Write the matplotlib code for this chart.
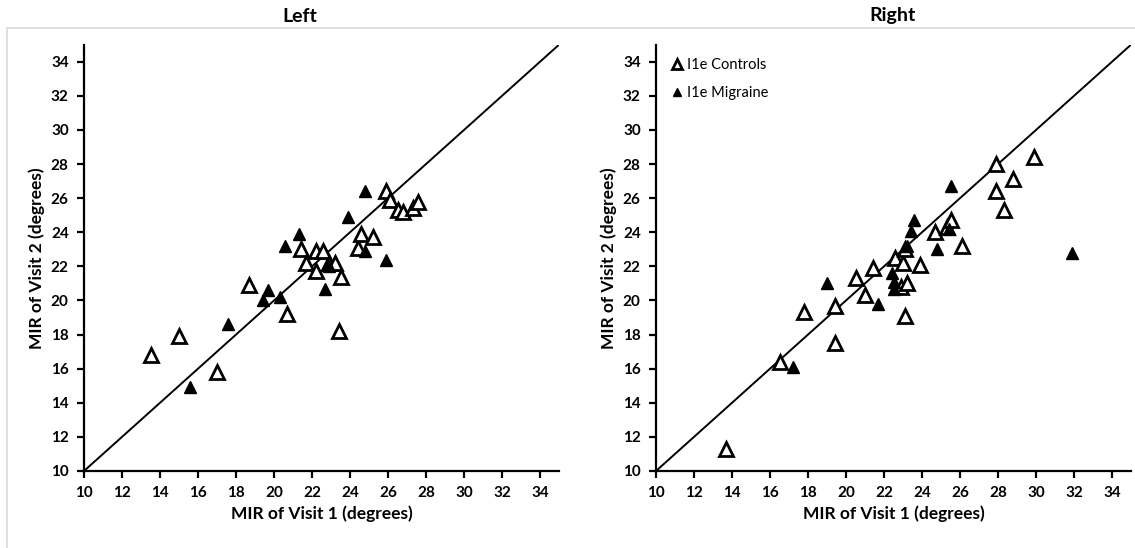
import matplotlib.pyplot as plt
from matplotlib.patches import Rectangle

plt.rcParams['font.family'] = ['Lato', 'DejaVu Sans']

# Left eye: MIR visit 1 vs visit 2 (degrees)
left_ctrl_v1 = [13.5, 15.0, 17.0, 18.7, 20.7, 21.4, 21.7, 22.2, 22.2, 22.6, 22.9, 23.2,
                23.5, 23.4, 24.4, 24.6, 25.2, 25.9, 26.1, 26.5, 26.8, 27.3, 27.6]
left_ctrl_v2 = [16.8, 17.9, 15.8, 20.9, 19.2, 23.0, 22.2, 21.7, 22.9, 22.9, 22.2, 22.2,
                21.4, 18.2, 23.1, 23.9, 23.7, 26.4, 25.9, 25.3, 25.2, 25.4, 25.8]
left_mig_v1 = [15.6, 17.6, 19.4, 19.7, 20.3, 20.6, 21.3, 22.7, 22.8, 22.9, 23.9, 24.8,
               24.8, 25.9]
left_mig_v2 = [14.9, 18.6, 20.0, 20.6, 20.2, 23.2, 23.9, 20.7, 22.1, 22.0, 24.9, 26.4,
               22.9, 22.4]

# Right eye
right_ctrl_v1 = [13.7, 16.5, 17.8, 19.4, 19.4, 20.5, 21.0, 21.4, 22.6, 22.9, 23.0, 23.1,
                 23.2, 23.1, 23.9, 24.7, 25.3, 25.5, 26.1, 27.9, 27.9, 28.8, 28.3, 29.9]
right_ctrl_v2 = [11.3, 16.4, 19.3, 17.5, 19.7, 21.3, 20.3, 21.9, 22.5, 20.8, 22.2, 23.0,
                 21.0, 19.1, 22.1, 24.0, 24.3, 24.7, 23.2, 28.0, 26.4, 27.1, 25.3, 28.4]
right_mig_v1 = [17.2, 19.0, 21.7, 22.4, 22.5, 22.5, 23.2, 23.4, 23.6, 24.8, 25.4, 25.5,
                31.9]
right_mig_v2 = [16.1, 21.0, 19.8, 21.6, 21.1, 20.7, 23.2, 24.1, 24.7, 23.0, 24.2, 26.7,
                22.8]

ticks = list(range(10, 36, 2))

fig = plt.figure(figsize=(11.35, 5.48), dpi=100)
fig.patches.append(Rectangle((7 / 1135, -0.1), 1.2, 1 - 28 / 548 + 0.1,
                             transform=fig.transFigure, fill=False,
                             edgecolor='#d9d9d9', linewidth=1.2))

ax_l = fig.add_axes([84 / 1135, 77 / 548, 475 / 1135, 426.3 / 548])
ax_r = fig.add_axes([656 / 1135, 77 / 548, 475 / 1135, 426.3 / 548])

panels = [
    (ax_l, left_ctrl_v1, left_ctrl_v2, left_mig_v1, left_mig_v2),
    (ax_r, right_ctrl_v1, right_ctrl_v2, right_mig_v1, right_mig_v2),
]

for ax, cx, cy, mx, my in panels:
    ax.plot([10, 35], [10, 35], color='black', lw=1.4, zorder=1)
    ax.plot(cx, cy, linestyle='none', marker='^', ms=10, mfc='white', mec='black',
            mew=2.0, label='I1e Controls', zorder=2)
    ax.plot(mx, my, linestyle='none', marker='^', ms=8, mfc='black', mec='black',
            label='I1e Migraine', zorder=3)
    ax.set_xlim(10, 35)
    ax.set_ylim(10, 35)
    ax.set_xticks(ticks)
    ax.set_yticks(ticks)
    for s in ['top', 'right']:
        ax.spines[s].set_visible(False)
    for s in ['left', 'bottom']:
        ax.spines[s].set_linewidth(1.6)
    ax.tick_params(direction='out', length=5, width=1.6, labelsize=11, pad=6)
    for lab in ax.get_xticklabels() + ax.get_yticklabels():
        lab.set_fontweight('bold')
    ax.set_xlabel('MIR of Visit 1 (degrees)', fontsize=12.5, fontweight='bold', labelpad=4)
    ax.set_ylabel('MIR of Visit 2 (degrees)', fontsize=12.5, fontweight='bold', labelpad=4)

ax_r.legend(loc='upper left', frameon=False, fontsize=10.5, handletextpad=0.2,
            handlelength=1.0, labelspacing=1.0, borderaxespad=0.2, markerscale=0.75,
            bbox_to_anchor=(0.01, 0.99))

fig.text(300 / 1135, 1 - 16 / 548, 'Left', ha='center', va='center',
         fontsize=14, fontweight='bold')
fig.text(893 / 1135, 1 - 16 / 548, 'Right', ha='center', va='center',
         fontsize=14, fontweight='bold')

fig.savefig('out.png', dpi=100)
